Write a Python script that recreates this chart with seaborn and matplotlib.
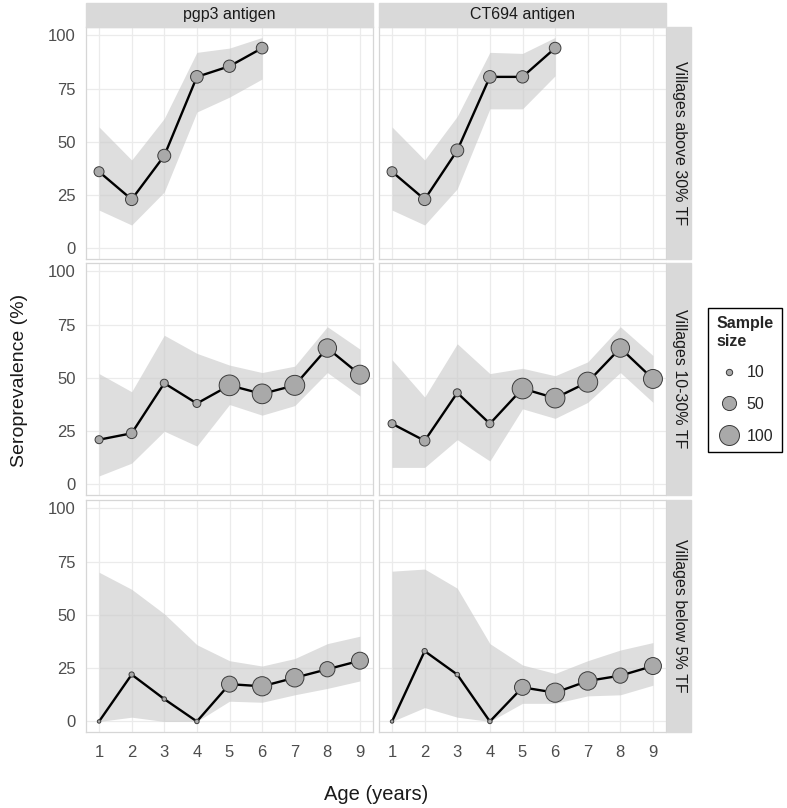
import numpy as np
import pandas as pd
import matplotlib
matplotlib.use("Agg")
import matplotlib.pyplot as plt
from matplotlib.lines import Line2D
from matplotlib.patches import Rectangle
import seaborn as sns

sns.set_theme(style="whitegrid")
plt.rcParams['font.family'] = ['Liberation Sans', 'DejaVu Sans']

antigens = ["pgp3 antigen", "CT694 antigen"]
strata = ["Villages above 30% TF", "Villages 10-30% TF", "Villages below 5% TF"]

# villages above 30% TF
ages_above = [1, 2, 3, 4, 5, 6]
n_above = [25, 38, 42, 40, 38, 34]
pgp3_above = [36, 23, 43.5, 80.5, 85.5, 94]
pgp3_above_lo = [18, 11, 26.5, 64, 71, 79.5]
pgp3_above_hi = [57, 41.5, 61, 92, 94, 99]
ct694_above = [36, 23, 46, 80.5, 80.5, 94]
ct694_above_lo = [18, 11, 28, 65.5, 65.5, 81]
ct694_above_hi = [57, 41.5, 62, 92, 91.5, 99]

# villages 10-30% TF
ages_mid = [1, 2, 3, 4, 5, 6, 7, 8, 9]
n_mid = [16, 28, 16, 16, 107, 97, 100, 85, 90]
pgp3_mid = [21, 24, 47.5, 38, 46.5, 42.5, 46.5, 64, 51.5]
pgp3_mid_lo = [4, 10, 25, 18, 37.5, 32.5, 37, 52.5, 41.5]
pgp3_mid_hi = [52, 43.5, 70, 61.5, 56, 52.5, 55.5, 74, 63.5]
ct694_mid = [28.5, 20.5, 43, 28.5, 45, 40.5, 48, 64, 49.5]
ct694_mid_lo = [8, 8, 21, 11, 35.5, 31, 38.5, 52.5, 38.5]
ct694_mid_hi = [58.5, 41, 66, 52, 54.5, 51, 57.5, 74, 60.5]

# villages below 5% TF
ages_low = [1, 2, 3, 4, 5, 6, 7, 8, 9]
n_low = [3, 7, 5, 5, 64, 92, 85, 58, 72]
pgp3_low = [0, 22, 10.5, 0, 17.5, 16.5, 20.5, 24.5, 28.5]
pgp3_low_lo = [0, 2, 0, 0, 9.5, 9, 12.5, 15.5, 19]
pgp3_low_hi = [70, 62, 50.5, 36, 28.5, 26, 29.5, 36.5, 40]
ct694_low = [0, 33, 22, 0, 16, 13.5, 19, 21.5, 26]
ct694_low_lo = [0, 6.5, 2, 0, 8.5, 8.5, 12, 12.5, 17]
ct694_low_hi = [70.5, 71.5, 62.5, 36.5, 26.5, 22.5, 28.5, 33.5, 37]

legend_sizes = [10, 50, 100]
y_ticks = [0, 25, 50, 75, 100]
x_ticks = [1, 2, 3, 4, 5, 6, 7, 8, 9]

NMAX = 110
SMAX = 2.07 * NMAX


def make_frame(ages, n, prev, lo, hi):
    return pd.DataFrame({"age": ages, "n": n, "prev": prev, "lo": lo, "hi": hi})


panels = {
    (0, 0): make_frame(ages_above, n_above, pgp3_above, pgp3_above_lo, pgp3_above_hi),
    (0, 1): make_frame(ages_above, n_above, ct694_above, ct694_above_lo, ct694_above_hi),
    (1, 0): make_frame(ages_mid, n_mid, pgp3_mid, pgp3_mid_lo, pgp3_mid_hi),
    (1, 1): make_frame(ages_mid, n_mid, ct694_mid, ct694_mid_lo, ct694_mid_hi),
    (2, 0): make_frame(ages_low, n_low, pgp3_low, pgp3_low_lo, pgp3_low_hi),
    (2, 1): make_frame(ages_low, n_low, ct694_low, ct694_low_lo, ct694_low_hi),
}

W, H = 787, 808
fig = plt.figure(figsize=(W / 100, H / 100), dpi=100)


def fig_box(x, y, w, h):
    # pixel box (top-left origin) -> figure fraction
    return [x / W, 1 - (y + h) / H, w / W, h / H]


col_x = [86, 379]
row_y = [27, 263, 500]
pw, ph = 287, 232
strip_grey = "#d9d9d9"

for (r, c), df in panels.items():
    ax = fig.add_axes(fig_box(col_x[c], row_y[r], pw, ph))
    ax.fill_between(df["age"], df["lo"], df["hi"], color="#c8c8c8",
                    alpha=0.6, lw=0, zorder=1)
    sns.lineplot(data=df, x="age", y="prev", ax=ax, color="black",
                 lw=1.7, errorbar=None, zorder=2)
    sns.scatterplot(data=df, x="age", y="prev", size="n", sizes=(0, SMAX),
                    size_norm=(0, NMAX), color="#a9a9a9", edgecolor="#3a3a3a",
                    linewidth=0.7, legend=False, ax=ax, zorder=3)
    ax.set_xlim(0.6, 9.4)
    ax.set_ylim(-4.95, 103.9)
    ax.set_xticks(x_ticks)
    ax.set_yticks(y_ticks)
    ax.set_xlabel("")
    ax.set_ylabel("")
    ax.set_axisbelow(True)
    ax.grid(True, color="#ebebeb", lw=0.9)
    for sp in ax.spines.values():
        sp.set_color("#d6d6d6")
        sp.set_linewidth(0.9)
    ax.tick_params(axis="both", length=4.5, width=0.8, color="#8c8c8c",
                   labelcolor="#4d4d4d", labelsize=12, pad=3)
    ax.tick_params(axis="x", pad=5)
    if c == 1:
        ax.tick_params(axis="y", left=False, labelleft=False)
    if r < 2:
        ax.tick_params(axis="x", bottom=False, labelbottom=False)

# facet strips
for c, name in enumerate(antigens):
    fig.patches.append(Rectangle((col_x[c] / W, 1 - 27 / H), pw / W, 24 / H,
                                 transform=fig.transFigure, color=strip_grey,
                                 zorder=0))
    fig.text((col_x[c] + pw / 2) / W, 1 - 15 / H, name, ha="center",
             va="center", fontsize=11.5, color="#1a1a1a")
for r, name in enumerate(strata):
    fig.patches.append(Rectangle((667 / W, 1 - (row_y[r] + ph) / H), 24 / W,
                                 ph / H, transform=fig.transFigure,
                                 color=strip_grey, zorder=0))
    fig.text(679 / W, 1 - (row_y[r] + ph / 2) / H, name, ha="center",
             va="center", rotation=-90, fontsize=11.5, color="#1a1a1a")

fig.text(20 / W, 1 - 380 / H, "Seroprevalence (%)", rotation=90,
         ha="center", va="center", fontsize=14, color="#1a1a1a")
fig.text(376 / W, 1 - 795 / H, "Age (years)", ha="center", va="center",
         fontsize=14.5, color="#1a1a1a")

handles = [Line2D([], [], ls="", marker="o", markersize=np.sqrt(SMAX * s / NMAX),
                  markerfacecolor="#a9a9a9", markeredgecolor="#3a3a3a",
                  markeredgewidth=0.7) for s in legend_sizes]
leg = fig.legend(handles, [str(s) for s in legend_sizes], title="Sample\nsize",
                 loc="center", bbox_to_anchor=(745 / W, 1 - 380 / H),
                 frameon=True, fancybox=False, edgecolor="black",
                 framealpha=1, fontsize=11.5, title_fontsize=11.5,
                 labelspacing=1.05, borderpad=0.5, borderaxespad=0,
                 handlelength=1.6, handletextpad=0.3, alignment="left")
leg.get_title().set_fontweight("bold")
leg.get_frame().set_linewidth(1.0)

fig.savefig("out.png", dpi=100)
